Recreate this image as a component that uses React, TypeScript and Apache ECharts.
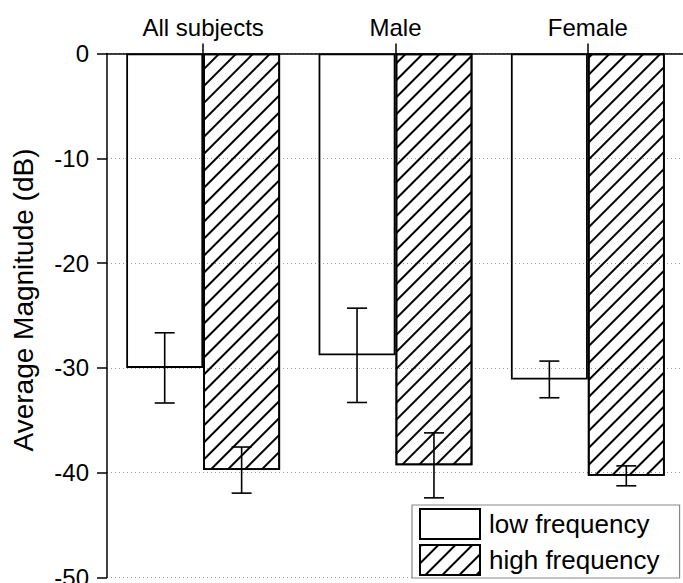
import React, { useEffect, useRef } from "react";
import * as echarts from "echarts";

const categories = ["All subjects", "Male", "Female"];
const lowValues = [-30.0, -28.8, -31.1];
const highValues = [-39.75, -39.3, -40.3];
const lowErr = [3.35, 4.5, 1.75];
const highErr = [2.2, 3.1, 0.95];
const yTicks = { min: -50, max: 0, interval: 10 };

const FONT = '"Liberation Sans", Arial, Helvetica, sans-serif';

const hatch = {
  symbol: "rect",
  symbolSize: 1,
  color: "#000",
  backgroundColor: "rgba(0,0,0,0)",
  dashArrayX: [1, 0],
  dashArrayY: [1.4, 9.4],
  rotation: -Math.PI / 4,
};

export default function App() {
  const ref = useRef<HTMLDivElement>(null);
  useEffect(() => {
    const chart = echarts.init(ref.current!, undefined, { renderer: "svg" });
    const errData = (vals: number[], errs: number[]) =>
      vals.map((v, i) => [i, v - errs[i], v + errs[i]]);
    const errSeries = (name: string, vals: number[], errs: number[], side: number) => ({
      type: "custom",
      name,
      z: 10,
      data: errData(vals, errs),
      renderItem: (params: any, api: any) => {
        const idx = api.value(0);
        const band = api.size([1, 0])[0];
        const x = api.coord([idx, 0])[0] + side * band * 0.2;
        const y1 = api.coord([idx, api.value(1)])[1];
        const y2 = api.coord([idx, api.value(2)])[1];
        const cap = 10;
        const st = { stroke: "#000", lineWidth: 1.6 };
        return {
          type: "group",
          children: [
            { type: "line", shape: { x1: x, y1, x2: x, y2 }, style: st },
            { type: "line", shape: { x1: x - cap, y1, x2: x + cap, y2: y1 }, style: st },
            { type: "line", shape: { x1: x - cap, y1: y2, x2: x + cap, y2 }, style: st },
          ],
        };
      },
    });
    chart.setOption({
      animation: false,
      backgroundColor: "#fff",
      textStyle: { fontFamily: FONT, color: "#000" },
      grid: { left: 107, top: 53.5, width: 577, height: 524, outerBoundsMode: "none", containLabel: false },
      xAxis: {
        type: "category",
        position: "top",
        data: categories,
        axisLine: { show: true, lineStyle: { color: "#000", width: 1.5 } },
        axisTick: { show: true, alignWithLabel: true, length: 10, lineStyle: { color: "#000", width: 1.5 } },
        axisLabel: { fontSize: 24, color: "#000", fontFamily: FONT, margin: 14 },
        splitLine: { show: false },
      },
      yAxis: {
        type: "value",
        min: yTicks.min,
        max: yTicks.max,
        interval: yTicks.interval,
        axisLine: { show: true, lineStyle: { color: "#000", width: 1.5 } },
        axisTick: { show: true, length: 10, lineStyle: { color: "#000", width: 1.5 } },
        axisLabel: { fontSize: 24, color: "#000", fontFamily: FONT, margin: 18 },
        splitLine: { show: true, lineStyle: { color: "#999", width: 1, type: [1, 3] } },
      },
      legend: {
        orient: "vertical",
        left: 412,
        top: 505,
        data: ["low frequency", "high frequency"],
        itemWidth: 60,
        itemHeight: 30,
        itemGap: 4,
        padding: [3, 20, 2, 7],
        borderColor: "#888",
        borderWidth: 1.2,
        backgroundColor: "#fff",
        icon: "rect",
        textStyle: { fontSize: 26, color: "#000", fontFamily: FONT, padding: [0, 0, 0, 4] },
      },
      graphic: [
        {
          type: "text",
          x: 23,
          y: 300,
          rotation: Math.PI / 2,
          style: {
            text: "Average Magnitude (dB)",
            font: `28px ${FONT}`,
            fill: "#000",
            align: "center",
            verticalAlign: "middle",
          },
        },
      ],
      series: [
        {
          type: "bar",
          name: "low frequency",
          data: lowValues,
          barGap: "0%",
          barCategoryGap: "20%",
          itemStyle: { color: "rgba(255,255,255,0)", borderColor: "#000", borderWidth: 1.8 },
        },
        {
          type: "bar",
          name: "high frequency",
          data: highValues,
          barGap: "0%",
          barCategoryGap: "20%",
          itemStyle: { color: "rgba(255,255,255,0)", borderColor: "#000", borderWidth: 1.8, decal: hatch },
        },
        errSeries("err-low", lowValues, lowErr, -1),
        errSeries("err-high", highValues, highErr, 1),
      ],
    });
    return () => chart.dispose();
  }, []);
  return (
    <div
      ref={ref}
      style={{ position: "fixed", left: 0, top: 0, width: 683, height: 583, background: "#fff" }}
    />
  );
}
